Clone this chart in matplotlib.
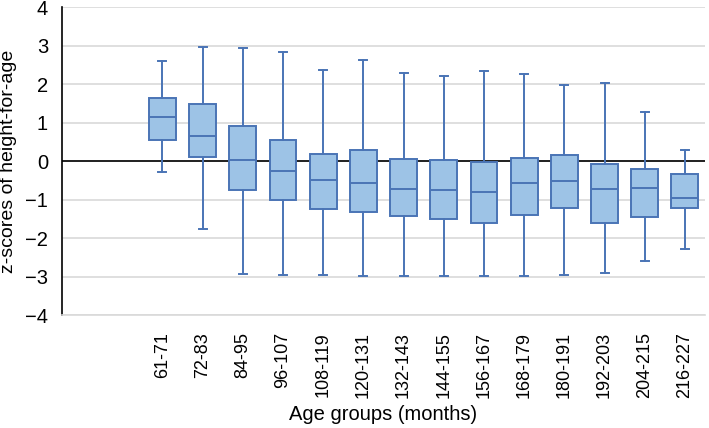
import numpy as np
import matplotlib.pyplot as plt

plt.rcParams['font.family'] = ['Liberation Sans', 'DejaVu Sans']

# age groups (months); two empty slots precede the first group
labels = ['61-71', '72-83', '84-95', '96-107', '108-119', '120-131', '132-143',
          '144-155', '156-167', '168-179', '180-191', '192-203', '204-215', '216-227']
whis_lo = [-0.27, -1.75, -2.94, -2.96, -2.96, -2.99, -2.97, -2.98, -2.98, -2.99, -2.96, -2.90, -2.60, -2.27]
q1 = [0.56, 0.10, -0.75, -1.01, -1.25, -1.32, -1.42, -1.51, -1.61, -1.39, -1.22, -1.61, -1.45, -1.22]
med = [1.15, 0.66, 0.03, -0.26, -0.49, -0.56, -0.72, -0.75, -0.79, -0.56, -0.52, -0.72, -0.69, -0.95]
q3 = [1.64, 1.48, 0.92, 0.56, 0.19, 0.29, 0.06, 0.03, -0.01, 0.09, 0.16, -0.07, -0.20, -0.33]
whis_hi = [2.60, 2.96, 2.94, 2.83, 2.37, 2.63, 2.30, 2.21, 2.34, 2.28, 1.98, 2.04, 1.28, 0.30]

n_empty = 2
fill = '#9DC3E6'
edge = '#4A74B5'

stats = []
for i, lab in enumerate(labels):
    stats.append({'label': lab, 'whislo': whis_lo[i], 'q1': q1[i], 'med': med[i],
                  'q3': q3[i], 'whishi': whis_hi[i], 'fliers': []})

fig = plt.figure(figsize=(7.09, 4.28), dpi=100)
ax = fig.add_axes([62 / 709, 1 - 315.3 / 428, 643 / 709, 308 / 428])

pos = np.arange(len(labels)) + n_empty
ax.bxp(stats, positions=pos, widths=0.67, patch_artist=True, showfliers=False,
       boxprops=dict(facecolor=fill, edgecolor=edge, linewidth=1.4),
       medianprops=dict(color=edge, linewidth=1.4),
       whiskerprops=dict(color=edge, linewidth=1.4),
       capprops=dict(color=edge, linewidth=1.4), capwidths=0.2, zorder=3)

ax.set_xlim(-0.5, len(labels) + n_empty - 0.5)
ax.set_ylim(-4, 4)
ax.set_yticks(range(-4, 5))
ax.set_xticks(pos)
ax.set_xticklabels(labels, rotation=90, fontsize=13)
ax.tick_params(axis='y', labelsize=14.5, length=0, pad=10)
ax.tick_params(axis='x', length=0, pad=12)

ax.grid(True, axis='y', color='#D9D9D9', linewidth=1.2, zorder=0)
ax.set_axisbelow(True)
ax.axhline(0, color='black', linewidth=1.2, zorder=2)
for s in ['top', 'right']:
    ax.spines[s].set_visible(False)
ax.spines['bottom'].set_color('#D9D9D9')
ax.spines['bottom'].set_linewidth(1.2)
ax.spines['left'].set_color('black')
ax.spines['left'].set_linewidth(1.2)

ax.set_ylabel('z-scores of height-for-age', fontsize=14)
ax.yaxis.set_label_coords(-45 / 643, 0.5)
ax.set_xlabel('Age groups (months)', fontsize=14.5, labelpad=5)

fig.savefig('out.png', dpi=100)
